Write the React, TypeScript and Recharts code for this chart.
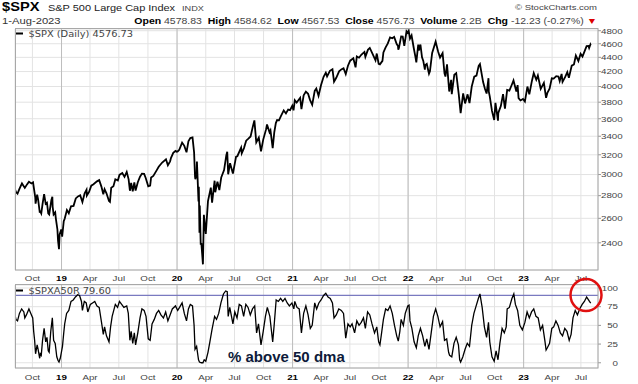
import React from "react";
import { LineChart, Line, XAxis, YAxis, CartesianGrid, ReferenceLine } from "recharts";

// $SPX closes, roughly weekly (MM-DD, close)
const spx2018: [string, number][] = [
  ["08-07", 2858], ["08-10", 2833], ["08-15", 2818], ["08-21", 2862], ["08-29", 2914], ["09-07", 2872],
  ["09-14", 2905], ["09-20", 2931], ["09-28", 2914], ["10-03", 2925], ["10-10", 2785], ["10-11", 2728],
  ["10-16", 2810], ["10-19", 2767], ["10-24", 2656], ["10-26", 2658], ["10-29", 2641], ["11-02", 2723],
  ["11-07", 2814], ["11-12", 2726], ["11-16", 2736], ["11-20", 2642], ["11-23", 2633], ["11-30", 2760],
  ["12-03", 2790], ["12-04", 2700], ["12-07", 2633], ["12-12", 2651], ["12-14", 2600], ["12-19", 2507],
  ["12-21", 2417], ["12-24", 2351], ["12-26", 2467], ["12-31", 2507],
];
const spx2019: [string, number][] = [
  ["01-03", 2448], ["01-08", 2575], ["01-11", 2596], ["01-18", 2671], ["01-24", 2643], ["01-31", 2704],
  ["02-08", 2708], ["02-15", 2775], ["02-22", 2793], ["03-01", 2804], ["03-08", 2743], ["03-15", 2822],
  ["03-21", 2855], ["03-22", 2801], ["03-29", 2834], ["04-05", 2893], ["04-12", 2907], ["04-23", 2934],
  ["04-30", 2946], ["05-07", 2884], ["05-13", 2812], ["05-17", 2860], ["05-23", 2822], ["05-31", 2752],
  ["06-03", 2744], ["06-07", 2873], ["06-14", 2887], ["06-20", 2954], ["06-28", 2942], ["07-03", 2996],
  ["07-12", 3014], ["07-19", 2977], ["07-26", 3026], ["08-01", 2953], ["08-05", 2845], ["08-09", 2919],
  ["08-14", 2840], ["08-19", 2924], ["08-23", 2847], ["08-30", 2926], ["09-06", 2979], ["09-12", 3009],
  ["09-19", 3006], ["09-24", 2966], ["10-02", 2887], ["10-08", 2893], ["10-11", 2970], ["10-18", 2986],
  ["10-28", 3039], ["11-04", 3078], ["11-15", 3120], ["11-27", 3153], ["12-03", 3093], ["12-10", 3132],
  ["12-13", 3168], ["12-20", 3221], ["12-27", 3240], ["12-31", 3231],
];
const spx2020: [string, number][] = [
  ["01-03", 3235], ["01-08", 3253], ["01-17", 3330], ["01-24", 3295], ["01-31", 3226], ["02-06", 3345],
  ["02-12", 3379], ["02-19", 3386], ["02-24", 3226], ["02-27", 2979], ["02-28", 2954], ["03-03", 3003],
  ["03-04", 3130], ["03-06", 2972], ["03-09", 2747], ["03-10", 2882], ["03-12", 2481], ["03-13", 2711],
  ["03-16", 2386], ["03-18", 2398], ["03-23", 2237], ["03-26", 2630], ["04-01", 2470], ["04-08", 2750],
  ["04-17", 2875], ["04-21", 2737], ["04-29", 2940], ["05-01", 2831], ["05-08", 2930], ["05-14", 2852],
  ["05-20", 2972], ["05-29", 3044], ["06-05", 3194], ["06-08", 3232], ["06-11", 3002], ["06-17", 3113],
  ["06-26", 3009], ["07-06", 3180], ["07-10", 3185], ["07-22", 3276], ["07-24", 3216], ["07-31", 3271],
  ["08-07", 3351], ["08-14", 3373], ["08-21", 3397], ["08-28", 3508], ["09-02", 3580], ["09-08", 3332],
  ["09-16", 3385], ["09-23", 3237], ["09-30", 3363], ["10-09", 3477], ["10-12", 3534], ["10-20", 3443],
  ["10-23", 3465], ["10-30", 3270], ["11-04", 3443], ["11-09", 3550], ["11-13", 3585], ["11-19", 3582],
  ["11-25", 3630], ["12-04", 3699], ["12-11", 3663], ["12-18", 3709], ["12-24", 3703], ["12-31", 3756],
];
const spx2021: [string, number][] = [
  ["01-04", 3700], ["01-08", 3824], ["01-14", 3795], ["01-25", 3855], ["01-29", 3714], ["02-05", 3886],
  ["02-12", 3934], ["02-19", 3906], ["02-25", 3829], ["03-04", 3768], ["03-12", 3943], ["03-17", 3974],
  ["03-24", 3881], ["04-01", 4020], ["04-09", 4129], ["04-16", 4185], ["04-20", 4135], ["04-29", 4211],
  ["05-07", 4232], ["05-12", 4063], ["05-19", 4116], ["05-28", 4204], ["06-04", 4230], ["06-11", 4247],
  ["06-18", 4166], ["06-25", 4281], ["07-02", 4352], ["07-12", 4385], ["07-19", 4258], ["07-23", 4412],
  ["07-30", 4395], ["08-06", 4437], ["08-16", 4479], ["08-19", 4406], ["08-27", 4509], ["09-02", 4537],
  ["09-10", 4459], ["09-20", 4358], ["09-24", 4455], ["09-30", 4307], ["10-04", 4300], ["10-12", 4350],
  ["10-15", 4471], ["10-22", 4545], ["10-29", 4605], ["11-05", 4697], ["11-12", 4682], ["11-18", 4704],
  ["11-26", 4595], ["11-30", 4567], ["12-01", 4513], ["12-03", 4538], ["12-10", 4712], ["12-15", 4709],
  ["12-20", 4568], ["12-27", 4791], ["12-31", 4766],
];
const spx2022: [string, number][] = [
  ["01-03", 4797], ["01-07", 4677], ["01-12", 4726], ["01-19", 4533], ["01-24", 4410], ["01-27", 4327],
  ["02-02", 4589], ["02-04", 4500], ["02-09", 4587], ["02-14", 4401], ["02-18", 4349], ["02-23", 4226],
  ["02-24", 4288], ["03-01", 4306], ["03-08", 4171], ["03-11", 4204], ["03-18", 4463], ["03-29", 4632],
  ["04-06", 4481], ["04-12", 4397], ["04-20", 4460], ["04-26", 4175], ["04-29", 4132], ["05-04", 4300],
  ["05-11", 3935], ["05-17", 4088], ["05-19", 3900], ["05-27", 4158], ["06-02", 4177], ["06-10", 3901],
  ["06-16", 3667], ["06-24", 3912], ["06-30", 3785], ["07-08", 3899], ["07-14", 3790], ["07-21", 3999],
  ["07-29", 4130], ["08-05", 4145], ["08-12", 4280], ["08-16", 4305], ["08-26", 4058], ["09-01", 3967],
  ["09-06", 3909], ["09-12", 4110], ["09-13", 3932], ["09-16", 3873], ["09-23", 3693], ["09-30", 3586],
  ["10-04", 3791], ["10-12", 3577], ["10-13", 3670], ["10-21", 3752], ["10-28", 3901], ["11-03", 3720],
  ["11-10", 3956], ["11-17", 3946], ["11-25", 4026], ["11-30", 4080], ["12-09", 3934], ["12-13", 4019],
  ["12-16", 3852], ["12-22", 3822], ["12-30", 3840],
];
const spx2023: [string, number][] = [
  ["01-05", 3808], ["01-13", 3999], ["01-19", 3899], ["01-27", 4070], ["02-02", 4179], ["02-10", 4090],
  ["02-15", 4148], ["02-24", 3970], ["03-06", 4048], ["03-13", 3855], ["03-17", 3917], ["03-24", 3971],
  ["03-31", 4109], ["04-06", 4105], ["04-14", 4137], ["04-21", 4133], ["04-25", 4072], ["05-01", 4168],
  ["05-04", 4061], ["05-12", 4124], ["05-19", 4192], ["05-24", 4115], ["06-02", 4282], ["06-09", 4299],
  ["06-15", 4425], ["06-23", 4348], ["06-30", 4450], ["07-06", 4411], ["07-14", 4505], ["07-19", 4565],
  ["07-25", 4567], ["07-27", 4537], ["07-31", 4589], ["08-01", 4577],
];

// $SPXA50R, % of S&P 500 stocks above their 50 dma
const breadth2018: [string, number][] = [
  ["08-07", 64], ["08-10", 58], ["08-15", 56], ["08-21", 66], ["08-28", 72], ["09-04", 68], ["09-07", 60],
  ["09-12", 64], ["09-20", 72], ["09-26", 66], ["10-02", 60], ["10-05", 42], ["10-08", 30], ["10-11", 12],
  ["10-16", 24], ["10-19", 18], ["10-24", 6], ["10-26", 12], ["10-29", 10], ["11-02", 30], ["11-07", 46],
  ["11-12", 28], ["11-16", 34], ["11-20", 16], ["11-23", 14], ["11-28", 42], ["12-03", 60], ["12-07", 30],
  ["12-12", 26], ["12-17", 8], ["12-21", 3], ["12-24", 1], ["12-28", 6],
];
const breadth2019: [string, number][] = [
  ["01-04", 22], ["01-08", 40], ["01-11", 52], ["01-17", 66], ["01-24", 70], ["01-31", 82], ["02-07", 84],
  ["02-14", 88], ["02-21", 91], ["02-27", 90], ["03-05", 82], ["03-08", 70], ["03-14", 82], ["03-20", 80],
  ["03-25", 68], ["04-02", 78], ["04-09", 80], ["04-16", 82], ["04-23", 76], ["04-30", 74], ["05-07", 55],
  ["05-13", 38], ["05-17", 48], ["05-23", 36], ["05-31", 28], ["06-05", 48], ["06-10", 62], ["06-20", 78],
  ["06-27", 74], ["07-03", 82], ["07-10", 78], ["07-17", 74], ["07-26", 76], ["07-31", 66], ["08-05", 30],
  ["08-09", 42], ["08-14", 26], ["08-19", 40], ["08-23", 24], ["08-30", 40], ["09-06", 60], ["09-12", 72],
  ["09-19", 70], ["09-25", 62], ["10-02", 32], ["10-08", 30], ["10-14", 52], ["10-21", 58], ["10-28", 66],
  ["11-04", 70], ["11-11", 64], ["11-19", 60], ["11-26", 68], ["12-03", 56], ["12-10", 64], ["12-17", 72],
  ["12-27", 76],
];
const breadth2020: [string, number][] = [
  ["01-03", 70], ["01-09", 74], ["01-17", 80], ["01-24", 66], ["01-31", 56], ["02-06", 72], ["02-12", 78],
  ["02-19", 76], ["02-24", 50], ["02-27", 18], ["03-03", 22], ["03-09", 4], ["03-12", 1], ["03-18", 0],
  ["03-23", 0], ["03-27", 4], ["04-01", 2], ["04-08", 14], ["04-14", 28], ["04-21", 45], ["04-29", 62],
  ["05-05", 58], ["05-12", 66], ["05-19", 80], ["05-27", 92], ["06-03", 96], ["06-08", 95], ["06-11", 62],
  ["06-16", 74], ["06-26", 52], ["07-02", 68], ["07-09", 60], ["07-16", 78], ["07-23", 76], ["07-30", 62],
  ["08-06", 78], ["08-13", 74], ["08-20", 64], ["08-27", 72], ["09-03", 76], ["09-09", 40], ["09-15", 52],
  ["09-23", 24], ["09-30", 42], ["10-07", 62], ["10-13", 74], ["10-21", 62], ["10-30", 28], ["11-04", 52],
  ["11-10", 84], ["11-17", 82], ["11-24", 86], ["12-01", 82], ["12-08", 86], ["12-15", 80], ["12-22", 76],
  ["12-30", 80],
];
const breadth2021: [string, number][] = [
  ["01-05", 72], ["01-08", 82], ["01-15", 74], ["01-22", 72], ["01-29", 40], ["02-05", 66], ["02-12", 76],
  ["02-19", 64], ["02-26", 46], ["03-04", 50], ["03-12", 80], ["03-18", 72], ["03-25", 80], ["04-01", 84],
  ["04-09", 90], ["04-16", 93], ["04-23", 88], ["04-30", 86], ["05-07", 80], ["05-12", 60], ["05-19", 64],
  ["05-27", 72], ["06-04", 70], ["06-11", 66], ["06-18", 33], ["06-25", 52], ["07-02", 48], ["07-08", 52],
  ["07-16", 40], ["07-23", 56], ["07-30", 50], ["08-06", 54], ["08-13", 60], ["08-19", 46], ["08-26", 68],
  ["09-02", 64], ["09-09", 52], ["09-17", 40], ["09-24", 48], ["09-30", 28], ["10-04", 24], ["10-08", 36],
  ["10-15", 58], ["10-22", 72], ["10-29", 70], ["11-05", 76], ["11-12", 66], ["11-19", 50], ["11-26", 36],
  ["12-01", 29], ["12-06", 42], ["12-10", 58], ["12-17", 50], ["12-23", 66], ["12-31", 76],
];
const breadth2022: [string, number][] = [
  ["01-04", 77], ["01-07", 56], ["01-13", 46], ["01-20", 28], ["01-27", 20], ["02-02", 36], ["02-09", 46],
  ["02-16", 36], ["02-23", 22], ["03-01", 32], ["03-08", 18], ["03-15", 40], ["03-22", 62], ["03-29", 72],
  ["04-05", 62], ["04-12", 48], ["04-20", 55], ["04-26", 30], ["05-03", 32], ["05-09", 14], ["05-12", 10],
  ["05-19", 8], ["05-26", 26], ["06-02", 34], ["06-09", 24], ["06-13", 4], ["06-16", 1], ["06-23", 8],
  ["06-30", 18], ["07-07", 26], ["07-14", 22], ["07-21", 50], ["07-28", 66], ["08-04", 76], ["08-11", 86],
  ["08-16", 92], ["08-23", 74], ["08-30", 48], ["09-06", 34], ["09-12", 54], ["09-16", 28], ["09-23", 8],
  ["09-30", 2], ["10-06", 16], ["10-12", 4], ["10-18", 26], ["10-25", 46], ["11-01", 40], ["11-07", 48],
  ["11-10", 72], ["11-17", 74], ["11-25", 86], ["12-01", 92], ["12-06", 78], ["12-13", 70], ["12-20", 50],
  ["12-28", 44],
];
const breadth2023: [string, number][] = [
  ["01-05", 54], ["01-12", 68], ["01-19", 60], ["01-26", 68], ["02-02", 72], ["02-09", 62], ["02-16", 60],
  ["02-23", 44], ["03-02", 50], ["03-09", 30], ["03-13", 17], ["03-17", 20], ["03-24", 26], ["03-31", 46],
  ["04-06", 48], ["04-13", 56], ["04-20", 50], ["04-27", 40], ["05-04", 36], ["05-11", 46], ["05-18", 42],
  ["05-25", 30], ["05-31", 38], ["06-06", 60], ["06-13", 70], ["06-20", 64], ["06-27", 72], ["07-05", 78],
  ["07-12", 82], ["07-19", 88], ["07-25", 84], ["07-28", 82], ["08-01", 79.6],
];

const xTickMonths = [
  "2018-10", "2019-01", "2019-04", "2019-07", "2019-10", "2020-01", "2020-04", "2020-07", "2020-10",
  "2021-01", "2021-04", "2021-07", "2021-10", "2022-01", "2022-04", "2022-07", "2022-10", "2023-01",
  "2023-04", "2023-07",
];
const monthNames = ["Jan", "Feb", "Mar", "Apr", "May", "Jun", "Jul", "Aug", "Sep", "Oct", "Nov", "Dec"];
const priceTicks = [2400, 2600, 2800, 3000, 3200, 3400, 3600, 3800, 4000, 4200, 4400, 4600, 4800];
const breadthTicks = [0, 25, 50, 75, 100];

const SX = 1.22;
const FONT = "'Liberation Sans', Arial, sans-serif";

function toT(year: number, mmdd: string) {
  const [m, d] = mmdd.split("-").map(Number);
  const start = Date.UTC(year, 0, 1);
  const end = Date.UTC(year + 1, 0, 1);
  return year + (Date.UTC(year, m - 1, d) - start) / (end - start);
}

const T0 = toT(2018, "08-07");
const T1 = toT(2023, "08-24");

const build = (years: [number, [string, number][]][]) =>
  years.flatMap(([y, rows]) => rows.map(([md, v]) => ({ t: toT(y, md), v })));

const priceData = build([
  [2018, spx2018], [2019, spx2019], [2020, spx2020], [2021, spx2021], [2022, spx2022], [2023, spx2023],
]);
const breadthData = build([
  [2018, breadth2018], [2019, breadth2019], [2020, breadth2020], [2021, breadth2021], [2022, breadth2022],
  [2023, breadth2023],
]);

const xTicks = xTickMonths.map((s) => {
  const [y, m] = s.split("-").map(Number);
  return {
    t: toT(y, `${m}-01`),
    label: m === 1 ? String(y).slice(2) : monthNames[m - 1],
    bold: m === 1,
  };
});
const yearLines = xTicks.filter((d) => d.bold).map((d) => d.t);

const SText = ({ x, y, size, anchor = "start", weight = "normal", fill = "#333", family = FONT, sx = SX, children }: any) => (
  <g transform={`translate(${x},${y}) scale(${sx},1)`}>
    <text x={0} y={0} fontSize={size} textAnchor={anchor} fontWeight={weight} fill={fill} fontFamily={family}>
      {children}
    </text>
  </g>
);

const MonthTick = ({ x, payload, baseline }: any) => {
  const info = xTicks.reduce((a, b) => (Math.abs(b.t - payload.value) < Math.abs(a.t - payload.value) ? b : a));
  return (
    <SText x={x} y={baseline} size={8} anchor="middle" weight={info.bold ? "bold" : "normal"} fill={info.bold ? "#000" : "#444"}>
      {info.label}
    </SText>
  );
};

const PriceTick = ({ y, payload }: any) => (
  <SText x={601} y={y + 2.8} size={8} fill="#444">{payload.value}</SText>
);

const BreadthTick = ({ y, payload }: any) => (
  <SText x={618} y={y + 2.8} size={8} anchor="end" fill="#444">{payload.value}</SText>
);

export default function App() {
  return (
    <div style={{ position: "absolute", left: 0, top: 0, width: 638, height: 384, background: "#fff", overflow: "hidden" }}>
      <div style={{ position: "absolute", left: 0, top: 0 }}>
        <LineChart width={638} height={284} data={priceData} margin={{ top: 29, right: 0, bottom: 0, left: 15 }}>
          <CartesianGrid stroke="#e3e3e3" />
          {yearLines.map((t) => (
            <ReferenceLine key={t} x={t} stroke="#bdbdbd" />
          ))}
          <XAxis
            type="number"
            dataKey="t"
            domain={[T0, T1]}
            ticks={xTicks.map((d) => d.t)}
            allowDataOverflow
            axisLine={false}
            tickLine={false}
            height={14}
            interval={0}
            tick={(p: any) => <MonthTick {...p} baseline={280.5} />}
          />
          <YAxis
            orientation="right"
            scale="log"
            domain={[2196, 4827]}
            ticks={priceTicks}
            allowDataOverflow
            width={40}
            axisLine={false}
            tickLine={{ stroke: "#999" }}
            tickSize={3}
            interval={0}
            tick={<PriceTick />}
          />
          <Line type="linear" dataKey="v" stroke="#000" strokeWidth={1.8} dot={false} isAnimationActive={false} />
        </LineChart>
      </div>
      <div style={{ position: "absolute", left: 0, top: 284 }}>
        <LineChart width={638} height={100} data={breadthData} margin={{ top: 1, right: 0, bottom: 0, left: 15 }}>
          <CartesianGrid stroke="#e3e3e3" />
          {yearLines.map((t) => (
            <ReferenceLine key={t} x={t} stroke="#bdbdbd" />
          ))}
          <ReferenceLine y={90} stroke="#7a7ac0" strokeWidth={1.2} />
          <XAxis
            type="number"
            dataKey="t"
            domain={[T0, T1]}
            ticks={xTicks.map((d) => d.t)}
            allowDataOverflow
            axisLine={false}
            tickLine={false}
            height={16}
            interval={0}
            tick={(p: any) => <MonthTick {...p} baseline={95.5} />}
          />
          <YAxis
            orientation="right"
            domain={[-7, 104]}
            ticks={breadthTicks}
            allowDataOverflow
            width={40}
            axisLine={false}
            tickLine={{ stroke: "#999" }}
            tickSize={3}
            interval={0}
            tick={<BreadthTick />}
          />
          <Line type="linear" dataKey="v" stroke="#000" strokeWidth={1.3} dot={false} isAnimationActive={false} />
        </LineChart>
      </div>
      <svg width={638} height={384} style={{ position: "absolute", left: 0, top: 0, pointerEvents: "none" }}>
        {/* header */}
        <SText x={2} y={11} size={12} weight="bold" fill="#000">$SPX</SText>
        <SText x={48} y={11} size={9} fill="#222">S&amp;P 500 Large Cap Index</SText>
        <SText x={182} y={11} size={7.5} fill="#444">INDX</SText>
        <SText x={597} y={10} size={7.8} anchor="end" fill="#444">© StockCharts.com</SText>
        <SText x={2} y={24} size={9.2} fill="#333">1-Aug-2023</SText>
        <g transform={`translate(597,24) scale(${SX},1)`}>
          <text x={0} y={0} fontSize={8.6} textAnchor="end" fontFamily={FONT} fill="#444" xmlSpace="preserve">
            <tspan fontWeight="bold" fill="#000">Open</tspan> 4578.83  <tspan fontWeight="bold" fill="#000">High</tspan> 4584.62  <tspan fontWeight="bold" fill="#000">Low</tspan> 4567.53  <tspan fontWeight="bold" fill="#000">Close</tspan> 4576.73  <tspan fontWeight="bold" fill="#000">Volume</tspan> 2.2B  <tspan fontWeight="bold" fill="#000">Chg</tspan> -12.23 (-0.27%) <tspan fill="#d00">▼</tspan>
          </text>
        </g>
        {/* panel frames */}
        <rect x={15.5} y={28.5} width={582.5} height={241.5} fill="none" stroke="#a8a8a8" />
        <rect x={15.5} y={284.5} width={582.5} height={83.5} fill="none" stroke="#a8a8a8" />
        {/* panel legends */}
        <line x1={16} x2={23} y1={33.5} y2={33.5} stroke="#000" strokeWidth={2} />
        <SText x={28.5} y={36.5} size={8.2} sx={1.2} family="'DejaVu Sans', Verdana, sans-serif" fill="#444">$SPX (Daily) 4576.73</SText>
        <line x1={16} x2={23} y1={290.5} y2={290.5} stroke="#000" strokeWidth={2} />
        <SText x={28.5} y={294} size={8.2} sx={1.2} family="'DejaVu Sans', Verdana, sans-serif" fill="#444">$SPXA50R 79.60</SText>
        {/* annotations */}
        <text x={228} y={361.5} fontSize={15} fontWeight="bold" fontFamily={FONT} fill="#0d1a3a">% above 50 dma</text>
        <ellipse cx={586} cy={295} rx={15.5} ry={16} fill="none" stroke="#e01010" strokeWidth={2.5} />
      </svg>
    </div>
  );
}
